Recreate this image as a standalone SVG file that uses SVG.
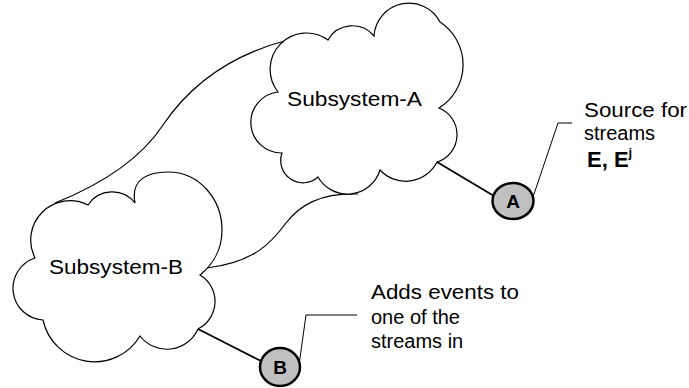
<svg xmlns="http://www.w3.org/2000/svg" width="689" height="388" viewBox="0 0 689 388">
  <style>
    .cloud { fill: #ffffff; stroke: #000000; stroke-width: 1.2; stroke-linejoin: miter; }
    .conn { fill: none; stroke: #000000; stroke-width: 1.2; }
    .link { fill: none; stroke: #000000; stroke-width: 1.8; }
    .lead { fill: none; stroke: #000000; stroke-width: 1; }
    .node { fill: #c0c0c0; stroke: #000000; stroke-width: 2.5; }
    .lbl { font-family: "Liberation Sans", Arial, sans-serif; font-size: 20px; fill: #000000; }
    .nlbl { font-family: "Liberation Sans", Arial, sans-serif; font-size: 19px; font-weight: bold; fill: #000000; text-anchor: middle; }
    .bold { font-family: "Liberation Sans", Arial, sans-serif; font-size: 22px; font-weight: bold; fill: #000000; }
  </style>
  <rect x="0" y="0" width="689" height="388" fill="#ffffff"/>
  <g id="connectors">
    <path class="conn" d="M55,203 C100,185 140,160 163,125 C190,85 230,55 288,40"/>
    <path class="conn" d="M358,194 C320,193 300,205 286,223 C272,242 255,262 207,268"/>
    <line class="link" x1="437" y1="162" x2="494" y2="196"/>
    <line class="link" x1="198" y1="329" x2="261" y2="361"/>
    <path class="lead" d="M533,197 L558,123 L572,123"/>
    <path class="lead" d="M299,365 L306,315 L357,315"/>
  </g>
  <g id="subsystem-a">
    <path class="cloud" d="M278,92 A36.4,36.4 0 0 1 328,40 A28,28 0 0 1 374,36 A35,35 0 0 1 440,22 A51,51 0 0 1 439,108 A28.7,28.7 0 0 1 437,162 A35,35 0 0 1 380,170 A34,34 0 0 1 318,177 A22.3,22.3 0 0 1 282,153 A30.6,30.6 0 0 1 278,92 Z"/>
    <text class="lbl" x="287" y="106" textLength="135" lengthAdjust="spacingAndGlyphs">Subsystem-A</text>
  </g>
  <g id="subsystem-b">
    <path class="cloud" d="M35,258 A39.4,39.4 0 0 1 88,205 A29,29 0 0 1 135,203 C130,178 150,172 168,172 C200,172 222,200 222,230 C222,252 212,265 200,275 A30.8,30.8 0 0 1 198,329 A34,34 0 0 1 140,336 A52.8,52.8 0 0 1 43,320 A31.8,31.8 0 0 1 35,258 Z"/>
    <text class="lbl" x="49" y="274" textLength="134" lengthAdjust="spacingAndGlyphs">Subsystem-B</text>
  </g>
  <g id="node-a">
    <ellipse class="node" cx="513" cy="201" rx="20.5" ry="18"/>
    <text class="nlbl" x="513" y="208">A</text>
  </g>
  <g id="node-b">
    <ellipse class="node" cx="280" cy="367" rx="20" ry="19"/>
    <text class="nlbl" x="280" y="374">B</text>
  </g>
  <g id="note-a">
    <text class="lbl" x="584" y="117" textLength="103" lengthAdjust="spacingAndGlyphs">Source for</text>
    <text class="lbl" x="584" y="140">streams</text>
    <text class="bold" x="587" y="167">E, E<tspan font-size="13" dy="-10">j</tspan></text>
  </g>
  <g id="note-b">
    <text class="lbl" x="371" y="299" textLength="148" lengthAdjust="spacingAndGlyphs">Adds events to</text>
    <text class="lbl" x="371" y="324">one of the</text>
    <text class="lbl" x="371" y="348">streams in</text>
  </g>
</svg>
